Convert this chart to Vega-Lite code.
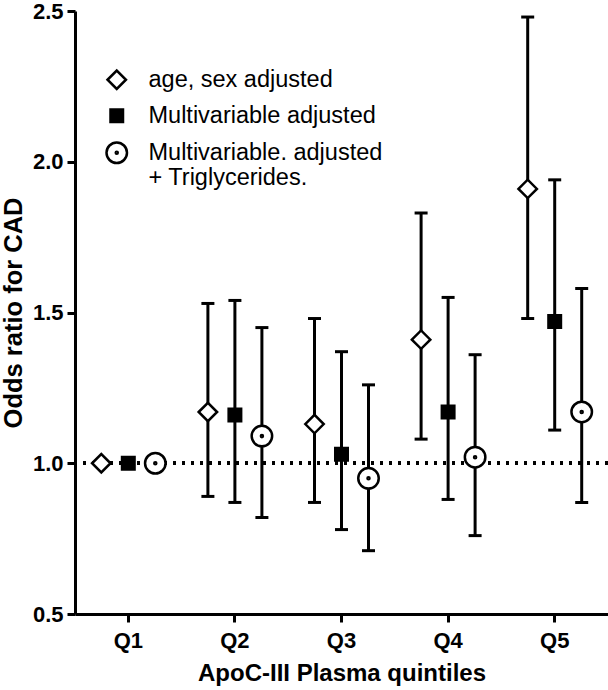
{
  "$schema": "https://vega.github.io/schema/vega-lite/v6.json",
  "width": 533,
  "height": 603,
  "autosize": {"type": "none"},
  "padding": {"left": 75, "top": 11, "right": 0, "bottom": 76},
  "background": "white",
  "config": {
    "view": {"stroke": null},
    "font": "Liberation Sans",
    "axis": {
      "domainColor": "black", "domainWidth": 3, "domainCap": "butt",
      "tickColor": "black", "tickWidth": 3, "tickSize": 8,
      "labelColor": "black", "labelFont": "Liberation Sans", "labelFontWeight": "bold", "labelFontSize": 22,
      "titleColor": "black", "titleFont": "Liberation Sans", "titleFontWeight": "bold", "titleFontSize": 24,
      "grid": false
    },
    "axisX": {"labelAngle": 0, "labelPadding": 8, "titleBaseline": "alphabetic", "titleY": 66},
    "axisY": {"labelPadding": 4, "titleBaseline": "alphabetic", "titleX": -54, "titleFontSize": 25.5},
    "legend": {"symbolStrokeColor": "black", "symbolStrokeWidth": 2.5, "symbolSize": 420}
  },
  "data": {
    "values": [
      {"q": "Q1", "series": "age, sex adjusted", "or": 1.0, "lo": null, "hi": null},
      {"q": "Q1", "series": "Multivariable adjusted", "or": 1.0, "lo": null, "hi": null},
      {"q": "Q1", "series": "Multivariable. adjusted + Triglycerides.", "or": 1.0, "lo": null, "hi": null},
      {"q": "Q2", "series": "age, sex adjusted", "or": 1.17, "lo": 0.89, "hi": 1.53},
      {"q": "Q2", "series": "Multivariable adjusted", "or": 1.16, "lo": 0.87, "hi": 1.54},
      {"q": "Q2", "series": "Multivariable. adjusted + Triglycerides.", "or": 1.09, "lo": 0.82, "hi": 1.45},
      {"q": "Q3", "series": "age, sex adjusted", "or": 1.13, "lo": 0.87, "hi": 1.48},
      {"q": "Q3", "series": "Multivariable adjusted", "or": 1.03, "lo": 0.78, "hi": 1.37},
      {"q": "Q3", "series": "Multivariable. adjusted + Triglycerides.", "or": 0.95, "lo": 0.71, "hi": 1.26},
      {"q": "Q4", "series": "age, sex adjusted", "or": 1.41, "lo": 1.08, "hi": 1.83},
      {"q": "Q4", "series": "Multivariable adjusted", "or": 1.17, "lo": 0.88, "hi": 1.55},
      {"q": "Q4", "series": "Multivariable. adjusted + Triglycerides.", "or": 1.02, "lo": 0.76, "hi": 1.36},
      {"q": "Q5", "series": "age, sex adjusted", "or": 1.91, "lo": 1.48, "hi": 2.48},
      {"q": "Q5", "series": "Multivariable adjusted", "or": 1.47, "lo": 1.11, "hi": 1.94},
      {"q": "Q5", "series": "Multivariable. adjusted + Triglycerides.", "or": 1.17, "lo": 0.87, "hi": 1.58}
    ]
  },
  "layer": [
    {
      "mark": {"type": "rule", "strokeDash": [3, 6], "strokeWidth": 3, "color": "black"},
      "encoding": {
        "y": {"datum": 1, "type": "quantitative", "title": "Odds ratio for CAD", "scale": {"domain": [0.5, 2.5], "nice": false, "zero": false}, "axis": {"values": [0.5, 1, 1.5, 2, 2.5], "format": ".1f"}}
      }
    },
    {
      "transform": [{"filter": "isValid(datum.lo)"}],
      "mark": {"type": "rule", "strokeWidth": 3, "color": "black"},
      "encoding": {
        "x": {"field": "q", "type": "nominal", "title": "ApoC-III Plasma quintiles", "scale": {"paddingInner": 0, "paddingOuter": 0}},
        "xOffset": {"field": "series", "type": "nominal", "scale": {"domain": ["age, sex adjusted", "Multivariable adjusted", "Multivariable. adjusted + Triglycerides."], "paddingInner": 0, "paddingOuter": 0.474}},
        "y": {"field": "lo", "type": "quantitative", "title": "Odds ratio for CAD", "axis": {"values": [0.5, 1, 1.5, 2, 2.5], "format": ".1f"}},
        "y2": {"field": "hi"}
      }
    },
    {
      "transform": [{"filter": "isValid(datum.lo)"}],
      "mark": {"type": "tick", "size": 13, "thickness": 3, "color": "black", "opacity": 1},
      "encoding": {
        "x": {"field": "q", "type": "nominal", "title": "ApoC-III Plasma quintiles"},
        "xOffset": {"field": "series", "type": "nominal"},
        "y": {"field": "lo", "type": "quantitative", "title": "Odds ratio for CAD", "axis": {"values": [0.5, 1, 1.5, 2, 2.5], "format": ".1f"}}
      }
    },
    {
      "transform": [{"filter": "isValid(datum.hi)"}],
      "mark": {"type": "tick", "size": 13, "thickness": 3, "color": "black", "opacity": 1},
      "encoding": {
        "x": {"field": "q", "type": "nominal", "title": "ApoC-III Plasma quintiles"},
        "xOffset": {"field": "series", "type": "nominal"},
        "y": {"field": "hi", "type": "quantitative", "title": "Odds ratio for CAD", "axis": {"values": [0.5, 1, 1.5, 2, 2.5], "format": ".1f"}}
      }
    },
    {
      "mark": {"type": "point", "filled": false, "color": "black", "stroke": "black", "strokeWidth": 2.5, "opacity": 1, "size": 420},
      "encoding": {
        "x": {"field": "q", "type": "nominal", "title": "ApoC-III Plasma quintiles"},
        "xOffset": {"field": "series", "type": "nominal"},
        "y": {"field": "or", "type": "quantitative", "title": "Odds ratio for CAD", "axis": {"values": [0.5, 1, 1.5, 2, 2.5], "format": ".1f"}},
        "shape": {
          "field": "series", "type": "nominal",
          "scale": {"domain": ["age, sex adjusted", "Multivariable adjusted", "Multivariable. adjusted + Triglycerides."],
                    "range": ["M-0.9,0L0,-0.9L0.9,0L0,0.9Z", "M-0.61,-0.61L0.61,-0.61L0.61,0.61L-0.61,0.61Z", "M1,0C1,0.552,0.552,1,0,1C-0.552,1,-1,0.552,-1,0C-1,-0.552,-0.552,-1,0,-1C0.552,-1,1,-0.552,1,0Z M0.1,0C0.1,0.0552,0.0552,0.1,0,0.1C-0.0552,0.1,-0.1,0.0552,-0.1,0C-0.1,-0.0552,-0.0552,-0.1,0,-0.1C0.0552,-0.1,0.1,-0.0552,0.1,0Z"]},
          "legend": {"orient": "none", "legendX": 30, "legendY": 57, "title": null, "labelFontSize": 23.5, "labelFont": "Liberation Sans", "labelColor": "black", "labelOffset": 20, "rowPadding": 9, "symbolStrokeColor": "black", "symbolStrokeWidth": 2.5, "symbolSize": 420, "labelLimit": 0, "padding": 0,
                     "labelExpr": "datum.label == 'Multivariable. adjusted + Triglycerides.' ? ['Multivariable. adjusted', '+ Triglycerides.'] : datum.label"}
        },
        "fill": {
          "field": "series", "type": "nominal",
          "scale": {"domain": ["age, sex adjusted", "Multivariable adjusted", "Multivariable. adjusted + Triglycerides."], "range": ["white", "black", "white"]},
          "legend": {"orient": "none", "legendX": 30, "legendY": 57, "title": null, "labelFontSize": 23.5, "labelFont": "Liberation Sans", "labelColor": "black", "labelOffset": 20, "rowPadding": 9, "symbolStrokeColor": "black", "symbolStrokeWidth": 2.5, "symbolSize": 420, "labelLimit": 0, "padding": 0,
                     "labelExpr": "datum.label == 'Multivariable. adjusted + Triglycerides.' ? ['Multivariable. adjusted', '+ Triglycerides.'] : datum.label"}
        },
        "stroke": {
          "field": "series", "type": "nominal",
          "scale": {"domain": ["age, sex adjusted", "Multivariable adjusted", "Multivariable. adjusted + Triglycerides."], "range": ["black", "black", "black"]},
          "legend": {"orient": "none", "legendX": 30, "legendY": 57, "title": null, "labelFontSize": 23.5, "labelFont": "Liberation Sans", "labelColor": "black", "labelOffset": 20, "rowPadding": 9, "symbolStrokeColor": "black", "symbolStrokeWidth": 2.5, "symbolSize": 420, "labelLimit": 0, "padding": 0,
                     "labelExpr": "datum.label == 'Multivariable. adjusted + Triglycerides.' ? ['Multivariable. adjusted', '+ Triglycerides.'] : datum.label"}
        }
      }
    }
  ]
}
